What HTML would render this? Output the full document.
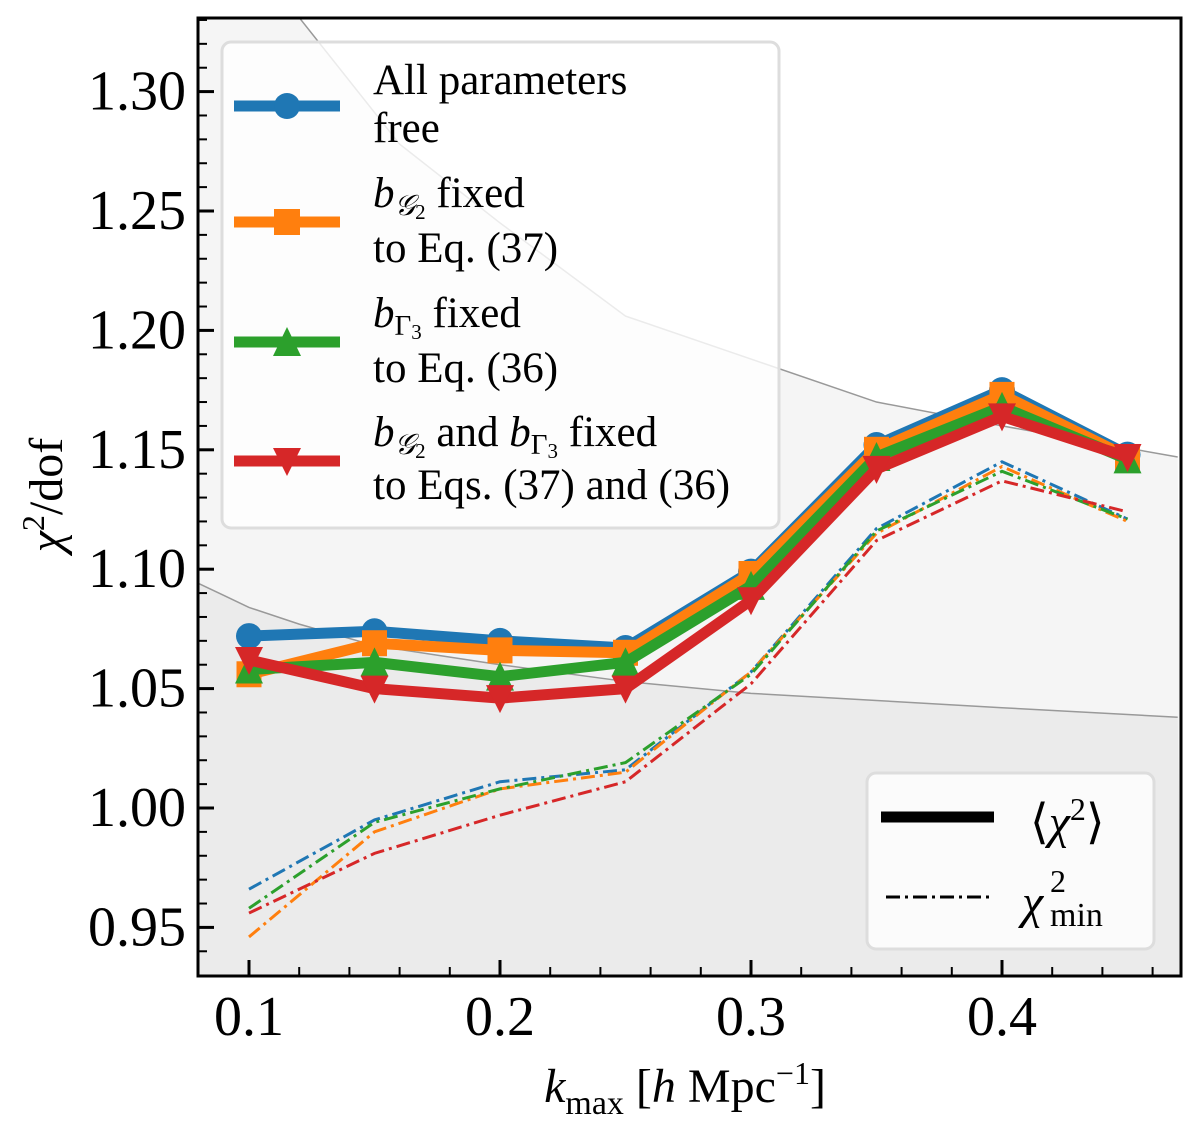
<!DOCTYPE html>
<html><head><meta charset="utf-8">
<style>
body{margin:0;background:#fff;}
svg, svg text{font-family:"Liberation Serif","DejaVu Serif",serif;}
</style></head>
<body>
<svg id="chart" width="1200" height="1120" viewBox="0 0 1200 1120" xmlns="http://www.w3.org/2000/svg" font-family="Liberation Serif, DejaVu Serif, serif">
<defs><clipPath id="clip"><rect x="198" y="18" width="983" height="958"/></clipPath></defs>
<g id="bg" clip-path="url(#clip)"></g>
<g id="marks" clip-path="url(#clip)"></g>
<rect x="198" y="18" width="983" height="958" fill="none" stroke="#000" stroke-width="3"/>
<g id="axes"></g>
<text transform="translate(62,495) rotate(-90)" text-anchor="middle" font-size="48"><tspan font-style="italic">χ</tspan><tspan dy="-18" font-size="32">2</tspan><tspan dy="18">/dof</tspan></text>
<text x="685" y="1102" text-anchor="middle" font-size="48"><tspan font-style="italic">k</tspan><tspan dy="12" font-size="34">max</tspan><tspan dy="-12"> [</tspan><tspan font-style="italic">h</tspan><tspan> Mpc</tspan><tspan dy="-18" font-size="32">−1</tspan><tspan dy="18">]</tspan></text>

<g>
<rect x="222" y="42" width="557" height="486" rx="9" fill="#fff" fill-opacity="0.8" stroke="#ddd" stroke-width="3"/>
<g>
<line x1="234" y1="106" x2="340" y2="106" stroke="#1f77b4" stroke-width="11"/><circle cx="287" cy="106" r="13" fill="#1f77b4"/>
<text x="373" y="94" font-size="43">All parameters</text><text x="373" y="142" font-size="43">free</text></g>
<g>
<line x1="234" y1="222" x2="340" y2="222" stroke="#ff7f0e" stroke-width="11"/><rect x="274" y="209" width="26" height="26" fill="#ff7f0e"/>
<text x="373" y="207" font-size="43"><tspan font-style="italic">b</tspan><tspan font-size="29" dy="8" font-style="italic">𝒢</tspan><tspan font-size="21" dy="4">2</tspan><tspan dy="-12"> fixed</tspan></text><text x="373" y="262" font-size="43">to Eq. (37)</text></g>
<g>
<line x1="234" y1="342" x2="340" y2="342" stroke="#2ca02c" stroke-width="11"/><polygon points="287,327 273,356 301,356" fill="#2ca02c"/>
<text x="373" y="327" font-size="43"><tspan font-style="italic">b</tspan><tspan font-size="29" dy="8">Γ</tspan><tspan font-size="21" dy="4">3</tspan><tspan dy="-12"> fixed</tspan></text><text x="373" y="382" font-size="43">to Eq. (36)</text></g>
<g>
<line x1="234" y1="461" x2="340" y2="461" stroke="#d62728" stroke-width="11"/><polygon points="273,448 301,448 287,476" fill="#d62728"/>
<text x="373" y="446" font-size="43"><tspan font-style="italic">b</tspan><tspan font-size="29" dy="8" font-style="italic">𝒢</tspan><tspan font-size="21" dy="4">2</tspan><tspan dy="-12"> and </tspan><tspan font-style="italic">b</tspan><tspan font-size="29" dy="8">Γ</tspan><tspan font-size="21" dy="4">3</tspan><tspan dy="-12"> fixed</tspan></text><text x="373" y="499" font-size="43">to Eqs. (37) and (36)</text></g>
</g>

<g>
<rect x="867" y="773" width="287" height="176" rx="9" fill="#fff" fill-opacity="0.8" stroke="#ddd" stroke-width="3"/>
<g><line x1="881" y1="817" x2="994" y2="817" stroke="#000" stroke-width="11"/>
<text x="1030" y="838" font-size="48">⟨<tspan font-style="italic">χ</tspan><tspan dy="-18" font-size="32">2</tspan><tspan dy="18">⟩</tspan></text></g>
<g><line x1="886" y1="897" x2="989" y2="897" stroke="#000" stroke-width="3" stroke-dasharray="14,5,3,5"/>
<text x="1022" y="918" font-size="48" font-style="italic">χ</text><text x="1050" y="892" font-size="32">2</text><text x="1050" y="926" font-size="34">min</text></g>
</g>
</svg>
<script>
const kValues=[0.10,0.15,0.20,0.25,0.30,0.35,0.40,0.45];
const meanAll=[1.072,1.074,1.070,1.067,1.099,1.152,1.175,1.148];
const meanBG2=[1.056,1.069,1.066,1.065,1.098,1.150,1.173,1.147];
const meanBG3=[1.058,1.061,1.055,1.061,1.093,1.147,1.168,1.146];
const meanBoth=[1.062,1.050,1.046,1.050,1.087,1.142,1.164,1.147];
const minAll=[0.966,0.995,1.011,1.016,1.057,1.117,1.145,1.121];
const minBG2=[0.946,0.990,1.008,1.015,1.057,1.115,1.143,1.120];
const minBG3=[0.958,0.994,1.008,1.019,1.056,1.116,1.141,1.121];
const minBoth=[0.956,0.981,0.997,1.011,1.052,1.112,1.137,1.124];
const yTicks=[0.95,1.00,1.05,1.10,1.15,1.20,1.25,1.30];
const yTickLabels=["0.95","1.00","1.05","1.10","1.15","1.20","1.25","1.30"];
const xTicks=[0.1,0.2,0.3,0.4];
const xTickLabels=["0.1","0.2","0.3","0.4"];
const bandUpperK=[0.08,0.10,0.12,0.16,0.20,0.25,0.30,0.35,0.40,0.47];
const bandUpper=[1.55,1.40,1.331,1.278,1.245,1.206,1.188,1.170,1.160,1.147];
const bandLowerK=[0.08,0.09,0.10,0.12,0.15,0.20,0.25,0.30,0.35,0.40,0.47];
const bandLower=[1.094,1.089,1.084,1.077,1.068,1.060,1.053,1.048,1.045,1.042,1.038];

const NS='http://www.w3.org/2000/svg';
function X(k){return 249+(k-0.1)*2510;}
function Y(v){return 808-(v-1)/0.05*119.4;}
function mk(tag,attrs,parent){const e=document.createElementNS(NS,tag);for(const a in attrs)e.setAttribute(a,attrs[a]);parent.appendChild(e);return e;}
const bg=document.getElementById('bg'),marks=document.getElementById('marks'),axes=document.getElementById('axes');

let up=bandUpperK.map((k,i)=>X(k)+','+Y(bandUpper[i])).join(' L');
let lo=bandLowerK.map((k,i)=>X(k)+','+Y(bandLower[i])).join(' L');
const b1=mk('path',{d:'M'+up+' L1182,976 L198,976 Z',fill:'#f5f5f5'},bg);


const b2=mk('path',{d:'M'+lo+' L1182,976 L198,976 Z',fill:'#ebebeb'},bg);


const l1=mk('path',{d:'M'+up,fill:'none',stroke:'#999','stroke-width':1.5},bg);


const l2=mk('path',{d:'M'+lo,fill:'none',stroke:'#999','stroke-width':1.5},bg);



const series=[
 {n:'all-free',c:'#1f77b4',mean:meanAll,min:minAll,m:'circle'},
 {n:'bg2-fixed',c:'#ff7f0e',mean:meanBG2,min:minBG2,m:'square'},
 {n:'bgamma3-fixed',c:'#2ca02c',mean:meanBG3,min:minBG3,m:'triangle'},
 {n:'both-fixed',c:'#d62728',mean:meanBoth,min:minBoth,m:'tridown'}];
series.forEach(s=>{
 const d='M'+kValues.map((k,i)=>X(k)+','+Y(s.min[i])).join(' L');
 const p=mk('path',{d:d,fill:'none',stroke:s.c,'stroke-width':3,'stroke-dasharray':'14,5,3,5'},marks);
 
 
});
series.forEach(s=>{
 const d='M'+kValues.map((k,i)=>X(k)+','+Y(s.mean[i])).join(' L');
 const p=mk('path',{d:d,fill:'none',stroke:s.c,'stroke-width':11,'stroke-linejoin':'round'},marks);
 
 
 kValues.forEach((k,i)=>{
  const x=X(k),y=Y(s.mean[i]);let e;
  if(s.m==='circle')e=mk('circle',{cx:x,cy:y,r:13,fill:s.c},marks);
  else if(s.m==='square')e=mk('rect',{x:x-12.5,y:y-13,width:25,height:26,fill:s.c},marks);
  else if(s.m==='triangle')e=mk('polygon',{points:`${x},${y-15} ${x-14},${y+14} ${x+14},${y+14}`,fill:s.c},marks);
  else e=mk('polygon',{points:`${x-14},${y-13} ${x+14},${y-13} ${x},${y+15}`,fill:s.c},marks);
  
  
 });
});
for(let v=0.93;v<=1.332;v+=0.01){const y=Y(v);if(y<19||y>975)continue;
 const major=Math.abs(Math.round(v*100)%5)===0;
 const t=mk('line',{x1:198,y1:y,x2:198+(major?16:9),y2:y,stroke:'#000','stroke-width':major?3:2},axes);
 
 }
yTicks.forEach((v,i)=>{const t=mk('text',{x:186,y:Y(v)+18,'text-anchor':'end','font-size':56},axes);t.textContent=yTickLabels[i];
 
 });
for(let k=0.08;k<=0.471;k+=0.02){const x=X(k);if(x<199||x>1180)continue;
 const major=Math.abs(Math.round(k*100)%10)===0;
 const t=mk('line',{x1:x,y1:976,x2:x,y2:976-(major?16:9),stroke:'#000','stroke-width':major?3:2},axes);
 
 }
xTicks.forEach((k,i)=>{const t=mk('text',{x:X(k),y:1035,'text-anchor':'middle','font-size':56},axes);t.textContent=xTickLabels[i];
 
 });
</script>
</body></html>
